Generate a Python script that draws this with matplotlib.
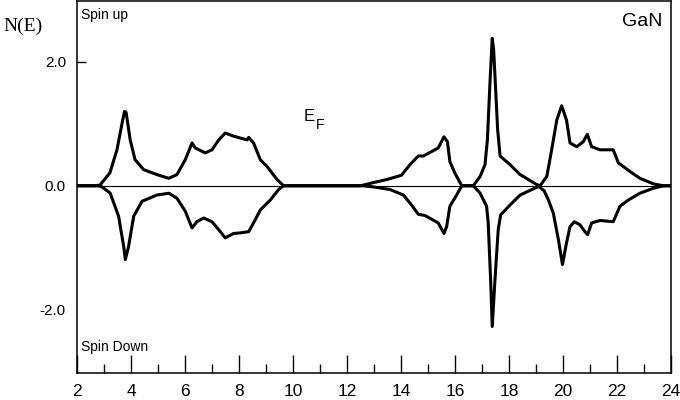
import matplotlib.pyplot as plt
from matplotlib.ticker import MultipleLocator

# spin up DOS
energy_up = [2.0, 2.7, 2.85, 3.22, 3.48, 3.67, 3.76, 3.82, 3.97, 4.15, 4.47, 4.96,
             5.40, 5.70, 6.01, 6.26, 6.38, 6.75, 7.0, 7.25, 7.49, 7.80, 8.05, 8.30,
             8.36, 8.54, 8.79, 9.04, 9.41, 9.65, 12.5, 12.97, 13.47, 14.02, 14.33,
             14.64, 14.83, 15.38, 15.59, 15.72, 15.81, 16.0, 16.25, 16.68, 16.93,
             17.11, 17.20, 17.30, 17.38, 17.43, 17.50, 17.58, 17.67, 18.04, 18.41,
             18.53, 19.02, 19.15, 19.40, 19.58, 19.77, 19.95, 20.13, 20.26, 20.51,
             20.75, 20.90, 21.06, 21.37, 21.86, 22.05, 22.48, 22.85, 23.35, 23.72, 24.0]
dos_up = [0.0, 0.0, 0.01, 0.21, 0.58, 1.01, 1.20, 1.18, 0.74, 0.42, 0.26, 0.18,
          0.12, 0.18, 0.42, 0.69, 0.61, 0.53, 0.58, 0.74, 0.85, 0.80, 0.77, 0.74,
          0.78, 0.69, 0.42, 0.31, 0.10, 0.0, 0.0, 0.05, 0.10, 0.17, 0.34,
          0.48, 0.48, 0.61, 0.79, 0.71, 0.39, 0.20, 0.0, 0.0, 0.15,
          0.34, 0.74, 1.71, 2.38, 2.20, 1.60, 0.90, 0.48, 0.34, 0.18,
          0.15, 0.02, 0.0, 0.15, 0.58, 1.06, 1.29, 1.06, 0.69, 0.63,
          0.71, 0.83, 0.63, 0.58, 0.58, 0.37, 0.23, 0.12, 0.03, 0.0, 0.0]

# spin down DOS
energy_down = [2.0, 2.75, 2.9, 3.23, 3.54, 3.73, 3.79, 3.91, 4.10, 4.41, 4.96, 5.40,
               5.70, 6.01, 6.26, 6.44, 6.69, 7.0, 7.25, 7.49, 7.80, 8.05, 8.36, 8.60,
               8.79, 9.16, 9.47, 9.65, 12.6, 13.0, 13.59, 14.09, 14.39, 14.64, 14.89,
               15.38, 15.59, 15.69, 15.81, 16.06, 16.25, 16.68, 16.93, 17.17, 17.23,
               17.32, 17.38, 17.48, 17.60, 17.69, 18.04, 18.41, 18.8, 19.1, 19.3,
               19.46, 19.64, 19.83, 19.98, 20.13, 20.26, 20.42, 20.63, 20.81, 20.91,
               21.06, 21.37, 21.86, 22.11, 22.42, 22.85, 23.35, 23.72, 24.0]
dos_down = [0.0, 0.0, -0.01, -0.12, -0.49, -0.98, -1.19, -0.98, -0.49, -0.25, -0.15, -0.12,
            -0.20, -0.41, -0.68, -0.58, -0.52, -0.58, -0.71, -0.84, -0.77, -0.76, -0.74, -0.55,
            -0.39, -0.23, -0.06, 0.0, 0.0, -0.02, -0.06, -0.15, -0.31, -0.46, -0.48,
            -0.60, -0.77, -0.66, -0.33, -0.15, 0.0, 0.0, -0.12, -0.33, -0.60,
            -1.52, -2.27, -1.52, -0.71, -0.47, -0.31, -0.15, -0.07, -0.01, -0.08,
            -0.23, -0.44, -0.87, -1.27, -0.92, -0.66, -0.58, -0.63, -0.74, -0.79,
            -0.60, -0.56, -0.58, -0.33, -0.23, -0.12, -0.04, 0.0, 0.0]

y_ticks = [2.0, 0.0, -2.0]
y_labels = ["2.0", "0.0", "-2.0"]

plt.rcParams['font.family'] = ['Liberation Sans', 'DejaVu Sans']

fig = plt.figure(figsize=(6.8, 4.0), dpi=100)
ax = fig.add_axes([77 / 680, 27 / 400, 594 / 680, 372 / 400])

ax.axhline(0, color='black', lw=0.8, zorder=1)
ax.plot(energy_up, dos_up, color='black', lw=2.2, zorder=2)
ax.plot(energy_down, dos_down, color='black', lw=2.2, zorder=2)

ax.set_xlim(2, 24)
ax.set_ylim(-3.02, 2.98)

ax.xaxis.set_major_locator(MultipleLocator(2))
ax.xaxis.set_minor_locator(MultipleLocator(1))
ax.tick_params(axis='x', which='major', direction='in', length=13, width=1,
               labelsize=12.5, pad=8)
ax.tick_params(axis='x', which='minor', direction='in', length=6.8, width=1)

ax.set_yticks(y_ticks)
ax.set_yticklabels(y_labels)
ax.tick_params(axis='y', direction='in', length=6.5, width=1, labelsize=11, pad=8)
for t in ax.yaxis.get_major_ticks()[1:]:
    t.tick1line.set_visible(False)

for s in ax.spines.values():
    s.set_linewidth(1.1)

ax.text(-0.124, 0.933, "N(E)", transform=ax.transAxes, fontsize=14,
        family=['Liberation Serif', 'DejaVu Serif'], va='center', ha='left')
ax.text(0.007, 0.962, "Spin up", transform=ax.transAxes, fontsize=10, va='center')
ax.text(0.007, 0.070, "Spin Down", transform=ax.transAxes, fontsize=10, va='center')
ax.text(0.985, 0.968, "GaN", transform=ax.transAxes, fontsize=14, va='top', ha='right')
ax.text(0.382, 0.69, "E", transform=ax.transAxes, fontsize=12, va='center')
ax.text(0.4015, 0.668, "F", transform=ax.transAxes, fontsize=10, va='center')

fig.savefig("out.png", dpi=100)
